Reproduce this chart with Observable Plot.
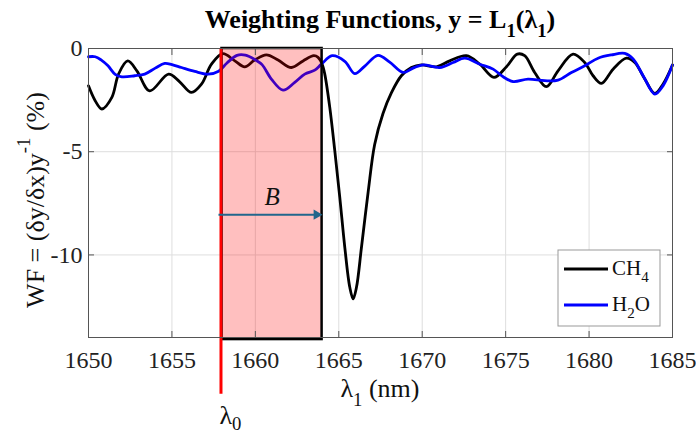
<!DOCTYPE html>
<html><head><meta charset="utf-8">
<script src="https://cdn.jsdelivr.net/npm/d3@7"></script>
<script src="https://cdn.jsdelivr.net/npm/@observablehq/plot@0.6"></script>
<style>
body{margin:0;background:#fff}
svg, svg text{font-family:"Liberation Serif","Times New Roman",serif !important}
</style>
</head><body><div id="chart"></div>
<script>
// CH4 weighting function
const ch4Wavelength = [1650.0,1650.4,1650.8,1651.4,1651.8,1652.35,1652.9,1653.67,1654.8,1655.45,1656.17,1656.77,1657.37,1658.05,1658.77,1659.36,1659.96,1660.66,1661.36,1662.16,1662.86,1663.5,1663.76,1664.0,1664.16,1664.46,1664.76,1665.06,1665.36,1665.66,1665.86,1666.06,1666.36,1666.76,1667.15,1667.65,1668.15,1668.75,1669.35,1669.95,1670.85,1671.65,1672.65,1673.45,1674.3,1675.05,1675.7,1676.14,1676.74,1677.44,1678.14,1679.04,1679.74,1680.24,1680.74,1681.44,1682.24,1682.74,1683.34,1683.94,1684.43,1685.0];
const ch4WF = [-1.81,-2.53,-2.93,-2.37,-1.24,-0.60,-1.08,-2.05,-1.24,-1.60,-2.13,-1.73,-0.76,-0.25,-0.60,-0.89,-0.56,-0.31,-0.56,-0.92,-0.60,-0.35,-0.43,-0.75,-1.24,-2.85,-4.95,-7.21,-9.63,-11.57,-12.13,-11.57,-9.63,-6.95,-4.65,-3.15,-2.15,-1.32,-0.92,-0.79,-0.89,-0.60,-0.35,-0.76,-1.40,-0.88,-0.27,-0.35,-1.16,-1.85,-1.08,-0.27,-0.68,-1.32,-1.69,-1.00,-0.47,-0.68,-1.48,-2.18,-1.73,-0.80];
// H2O weighting function
const h2oWavelength = [1650.0,1650.4,1650.75,1651.17,1651.6,1652.0,1652.77,1653.37,1654.0,1654.57,1655.0,1655.57,1656.37,1657.17,1657.8,1658.3,1658.9,1659.4,1660.0,1660.4,1660.96,1661.66,1662.36,1662.96,1663.56,1663.96,1664.6,1665.36,1665.96,1666.56,1667.35,1668.05,1668.85,1669.45,1670.05,1671.05,1671.85,1672.55,1673.45,1674.25,1674.85,1675.45,1676.34,1677.34,1678.14,1678.94,1679.74,1680.54,1681.34,1682.14,1682.64,1683.24,1683.94,1684.43,1685.0];
const h2oWF = [-0.40,-0.40,-0.55,-0.84,-1.25,-1.37,-1.32,-1.24,-0.95,-0.72,-0.78,-0.92,-1.11,-1.24,-1.10,-0.70,-0.33,-0.32,-0.55,-0.78,-1.48,-2.02,-1.64,-1.24,-1.05,-0.76,-0.35,-0.62,-1.22,-0.85,-0.33,-0.66,-1.16,-0.95,-0.79,-0.92,-0.68,-0.47,-0.76,-1.00,-1.37,-1.60,-1.48,-1.56,-1.53,-1.16,-0.84,-0.47,-0.31,-0.24,-0.51,-1.32,-2.21,-1.81,-0.80];

const xTicks = [1650,1655,1660,1665,1670,1675,1680,1685];
const yTicks = [0,-5,-10];
const xDomain = [1650,1685];
const yDomain = [-14,0];
const lambda0 = 1658;      // start of band
const bandEnd = 1664;      // end of band B
const bandBottom = -14.1;
const lambda0LineEnd = -16.75;
const arrowY = -8.05;
const bLabel = {x: 1661, y: -7.2, text: "B"};

const ch4 = ch4Wavelength.map((x,i)=>({x, y: ch4WF[i]}));
const h2o = h2oWavelength.map((x,i)=>({x, y: h2oWF[i]}));

const serif = "Liberation Serif";
const axisColor = "#555";
const plot = Plot.plot({
  width: 696, height: 434,
  marginTop: 48, marginLeft: 88, marginRight: 24, marginBottom: 97,
  x: {domain: xDomain},
  y: {domain: yDomain},
  style: {fontFamily: serif, background: "white", overflow: "visible", color: "#222"},
  marks: [
    Plot.gridX({ticks: xTicks, stroke: "#dedede", strokeOpacity: 1}),
    Plot.gridY({ticks: yTicks, stroke: "#dedede", strokeOpacity: 1}),
    Plot.line(ch4, {x: "x", y: "y", stroke: "black", strokeWidth: 2.8, curve: "catmull-rom"}),
    Plot.line(h2o, {x: "x", y: "y", stroke: "#0000ff", strokeWidth: 2.8, curve: "catmull-rom"}),
    Plot.rect([{x1: lambda0, x2: bandEnd, y1: bandBottom, y2: 0}], {x1: "x1", x2: "x2", y1: "y1", y2: "y2", fill: "red", fillOpacity: 0.25, stroke: "black", strokeWidth: 2.5}),
    Plot.ruleX([lambda0], {x: d=>d, y1: 0, y2: lambda0LineEnd, stroke: "red", strokeWidth: 3, dx: -1}),
    Plot.ruleY([arrowY], {y: d=>d, x1: lambda0, x2: bandEnd, stroke: "#21668c", strokeWidth: 2, dx: -3}),
    Plot.dot([{x: bandEnd, y: arrowY}], {x: "x", y: "y", symbol: "triangle", r: 3.8, rotate: 90, fill: "#21668c", stroke: "none", dx: -5.5}),
    Plot.text([bLabel], {x: "x", y: "y", text: "text", fontSize: 25, fontStyle: "italic", fontFamily: serif, fill: "#111"}),
    Plot.frame({stroke: axisColor, strokeWidth: 1}),
    Plot.axisX({ticks: xTicks, anchor: "bottom", tickSize: 6, dy: -6, text: null, stroke: axisColor}),
    Plot.axisX({ticks: xTicks, anchor: "top", tickSize: 6, dy: 6, text: null, stroke: axisColor}),
    Plot.axisY({ticks: yTicks, anchor: "left", tickSize: 6, dx: 6, text: null, stroke: axisColor}),
    Plot.axisY({ticks: yTicks, anchor: "right", tickSize: 6, dx: -6, text: null, stroke: axisColor}),
    Plot.axisX({ticks: xTicks, anchor: "bottom", tickSize: 0, tickPadding: 13, fontSize: 24, fontFamily: serif, fontVariant: "normal", label: null, tickFormat: d => String(d), fill: "#222"}),
    Plot.axisY({ticks: yTicks, anchor: "left", tickSize: 0, tickPadding: 6, fontSize: 24, fontFamily: serif, fontVariant: "normal", label: null, tickFormat: d => String(d), fill: "#222"})
  ]
});
document.getElementById("chart").appendChild(plot);

const svg = d3.select(plot);
function richText(g, x, y, parts, opts) {
  const t = g.append("text").attr("x", x).attr("y", y)
    .attr("font-family", serif).attr("font-size", opts.size).attr("fill", opts.fill || "#111")
    .attr("text-anchor", opts.anchor || "start");
  if (opts.weight) t.attr("font-weight", opts.weight);
  if (opts.transform) t.attr("transform", opts.transform);
  let shift = 0;
  const subShift = opts.subShift ?? 0.35;
  for (const p of parts) {
    const s = t.append("tspan").text(p.t);
    const target = p.sub ? subShift : p.sup ? -0.55 : 0;
    const dy = target - shift;
    if (dy !== 0) s.attr("dy", (dy * opts.size) + "px");
    shift = target;
    if (p.sub || p.sup) s.attr("font-size", opts.size * 0.72);
  }
  return t;
}
const xs = plot.scale("x");
const cx = (xs.apply(xDomain[0]) + xs.apply(xDomain[1])) / 2;

// Title
richText(svg, cx, 28, [{t: "Weighting Functions, y = L"}, {t: "1", sub: true}, {t: "(λ"}, {t: "1", sub: true}, {t: ")"}], {size: 26, weight: "bold", anchor: "middle", fill: "#000"});
// x label
richText(svg, cx, 397, [{t: "λ"}, {t: "1", sub: true}, {t: " (nm)"}], {size: 26, anchor: "middle"});
// lambda0 label
richText(svg, xs.apply(lambda0) - 2, 424, [{t: "λ"}, {t: "0", sub: true}], {size: 26, anchor: "start", subShift: 0.22});
// y label
richText(svg, 0, 0, [{t: "WF = (δy/δx)y"}, {t: "-1", sup: true}, {t: " (%)"}], {size: 26, anchor: "middle", transform: "translate(44,200) rotate(-90)"});

// Legend
const lg = svg.append("g");
lg.append("rect").attr("x", 558).attr("y", 250).attr("width", 102).attr("height", 76)
  .attr("fill", "white").attr("stroke", "#999").attr("stroke-width", 1);
const entries = [{name: [{t: "CH"}, {t: "4", sub: true}], color: "black", y: 269},
                 {name: [{t: "H"}, {t: "2", sub: true}, {t: "O"}], color: "#0000ff", y: 305}];
for (const e of entries) {
  lg.append("line").attr("x1", 564).attr("x2", 608).attr("y1", e.y).attr("y2", e.y)
    .attr("stroke", e.color).attr("stroke-width", 3);
  richText(lg, 612, e.y + 6, e.name, {size: 21, anchor: "start"});
}
</script>
</body></html>
